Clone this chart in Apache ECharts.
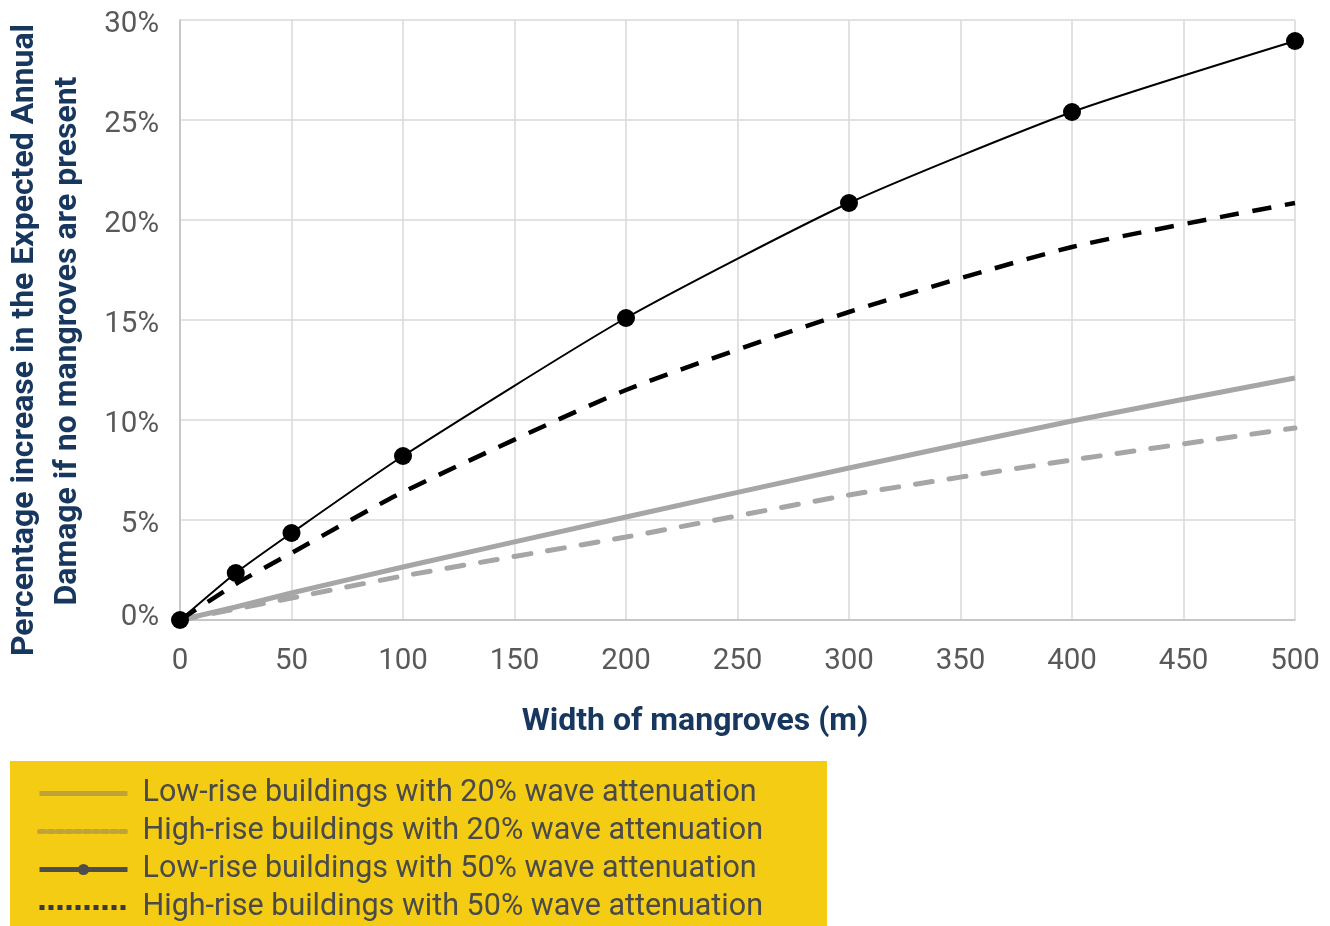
<!DOCTYPE html>
<html>
<head>
<meta charset="utf-8">
<script src="https://cdn.jsdelivr.net/npm/echarts@6/dist/echarts.min.js"></script>
<style>
  html, body { margin: 0; padding: 0; background: #ffffff; }
  #chart { width: 1330px; height: 926px; }
</style>
</head>
<body>
<div id="chart"></div>
<script>
// Mangrove width (m) at which damage was modelled
const widths = [0, 25, 50, 100, 200, 300, 400, 500];

// Percentage increase in Expected Annual Damage if no mangroves are present
const lowRise20 = [0, 0.65, 1.35, 2.65, 5.15, 7.6, 9.95, 12.1];
const highRise20 = [0, 0.55, 1.1, 2.2, 4.15, 6.25, 8.0, 9.6];
const lowRise50 = [0, 2.35, 4.35, 8.2, 15.1, 20.85, 25.4, 28.95];
const highRise50 = [0, 1.8, 3.35, 6.4, 11.5, 15.4, 18.65, 20.85];

const seriesNames = [
  'Low-rise buildings with 20% wave attenuation',
  'High-rise buildings with 20% wave attenuation',
  'Low-rise buildings with 50% wave attenuation',
  'High-rise buildings with 50% wave attenuation'
];

const yTitleLines = [
  'Percentage increase in the Expected Annual',
  'Damage if no mangroves are present'
];
const xTitle = 'Width of mangroves (m)';

const FONT = 'Roboto, "Noto Sans", sans-serif';
const NAVY = '#17375e';
const TICK = '#595959';
const GRID = '#d9d9d9';
const GREY = '#a6a6a6';

function pairs(ys) {
  return widths.map((w, i) => [w, ys[i]]);
}

const chart = echarts.init(document.getElementById('chart'), null, { renderer: 'canvas' });

chart.setOption({
  animation: false,
  backgroundColor: '#ffffff',
  grid: { left: 180, right: 35, top: 20, bottom: 306, containLabel: false },
  xAxis: {
    type: 'value',
    min: 0,
    max: 500,
    interval: 50,
    axisLine: { show: true, lineStyle: { color: '#bfbfbf', width: 1.5 } },
    axisTick: { show: false },
    splitLine: { show: true, lineStyle: { color: GRID, width: 1.5 } },
    axisLabel: { color: TICK, fontFamily: FONT, fontSize: 29.5, margin: 27 }
  },
  yAxis: {
    type: 'value',
    min: 0,
    max: 30,
    interval: 5,
    axisLine: { show: true, lineStyle: { color: '#bfbfbf', width: 1.5 } },
    axisTick: { show: false },
    splitLine: { show: true, lineStyle: { color: GRID, width: 1.5 } },
    axisLabel: {
      color: TICK, fontFamily: FONT, fontSize: 29.5, margin: 21,
      formatter: v => (v === 0 ? '{z|0%}' : '{n|' + v + '%}'),
      rich: {
        n: { color: TICK, fontFamily: FONT, fontSize: 29.5, padding: [10, 0, 0, 0] },
        z: { color: TICK, fontFamily: FONT, fontSize: 29.5, padding: [0, 0, 4, 0] }
      }
    }
  },
  legend: {
    orient: 'vertical',
    left: 37,
    top: 778,
    padding: 0,
    itemWidth: 88,
    itemHeight: 14,
    itemGap: 7,
    selectedMode: false,
    textStyle: {
      color: '#4a4a4a', fontFamily: FONT, fontSize: 30.5, lineHeight: 30,
      padding: [0, 0, 0, 10]
    },
    data: [
      { name: seriesNames[0], itemStyle: { opacity: 0 },
        lineStyle: { color: '#bea33a', width: 5, type: 'solid' } },
      { name: seriesNames[1], itemStyle: { opacity: 0 },
        lineStyle: { color: '#bea33a', width: 5, type: [5, 4] } },
      { name: seriesNames[2], itemStyle: { color: '#4d4d4d' },
        lineStyle: { color: '#4d4d4d', width: 5, type: 'solid' } },
      { name: seriesNames[3], itemStyle: { opacity: 0 },
        lineStyle: { color: '#3a3a3a', width: 5, type: [5, 4] } }
    ]
  },
  graphic: [
    {
      type: 'rect', z: -10, silent: true,
      shape: { x: 10, y: 761, width: 817, height: 170 },
      style: { fill: '#f3cc13' }
    },
    {
      type: 'text', x: 25, y: 340, rotation: Math.PI / 2,
      style: { text: yTitleLines[0], fill: NAVY, font: 'bold 32px ' + FONT, align: 'center', verticalAlign: 'middle' }
    },
    {
      type: 'text', x: 68, y: 341, rotation: Math.PI / 2,
      style: { text: yTitleLines[1], fill: NAVY, font: 'bold 32px ' + FONT, align: 'center', verticalAlign: 'middle' }
    },
    {
      type: 'text', x: 695, y: 722,
      style: { text: xTitle, fill: NAVY, font: 'bold 32px ' + FONT, align: 'center', verticalAlign: 'middle' }
    }
  ],
  series: [
    {
      name: seriesNames[0], type: 'line', data: pairs(lowRise20),
      symbol: 'none', smooth: 0.2, z: 2,
      lineStyle: { color: GREY, width: 5 }, itemStyle: { color: GREY }
    },
    {
      name: seriesNames[1], type: 'line', data: pairs(highRise20),
      symbol: 'none', smooth: 0.2, z: 2,
      lineStyle: { color: GREY, width: 5, type: [17, 17], cap: 'round' }, itemStyle: { color: GREY }
    },
    {
      name: seriesNames[3], type: 'line', data: pairs(highRise50),
      symbol: 'none', smooth: 0.2, z: 3,
      lineStyle: { color: '#000000', width: 4.5, type: [19, 14] }, itemStyle: { color: '#000000' }
    },
    {
      name: seriesNames[2], type: 'line', data: pairs(lowRise50),
      symbol: 'circle', symbolSize: 18, smooth: 0.2, z: 4,
      lineStyle: { color: '#000000', width: 2 }, itemStyle: { color: '#000000' }
    }
  ]
});
</script>
</body>
</html>
